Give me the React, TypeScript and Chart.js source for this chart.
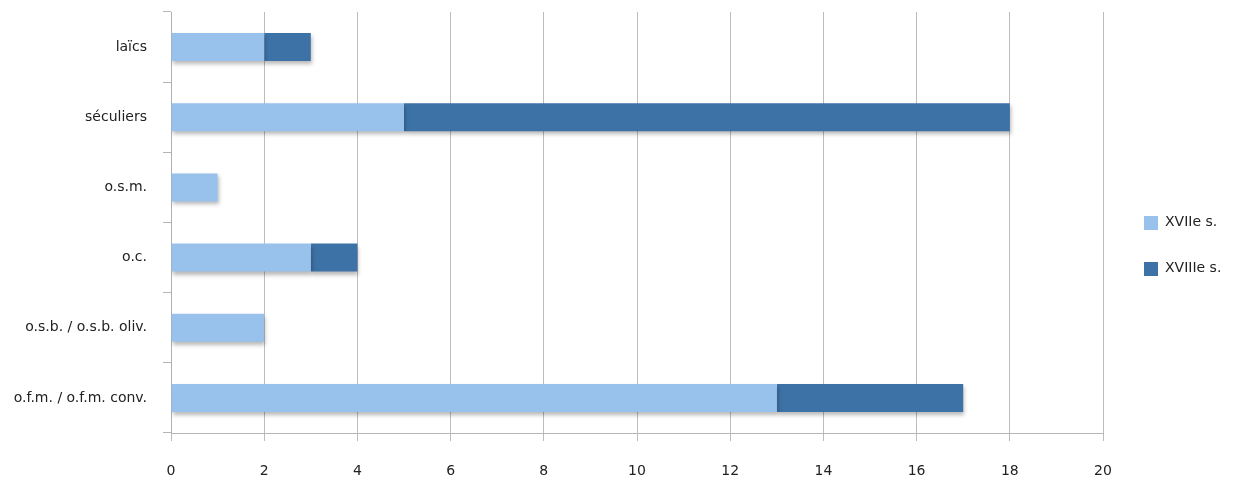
import React, { useEffect, useRef } from "react";
import { Chart, registerables } from "chart.js";

Chart.register(...registerables);

const categories = ["laïcs", "séculiers", "o.s.m.", "o.c.", "o.s.b. / o.s.b. oliv.", "o.f.m. / o.f.m. conv."];
const seriesNames = ["XVIIe s.", "XVIIIe s."];
const xviie = [2, 5, 1, 3, 2, 13];
const xviiie = [1, 13, 0, 1, 0, 4];
const xTicks = [0, 2, 4, 6, 8, 10, 12, 14, 16, 18, 20];

const LIGHT = "#98c1eb";
const DARK = "#3d72a7";
const FONT = "'DejaVu Sans', sans-serif";

const shadowPlugin = {
  id: "barShadow",
  beforeDatasetsDraw(chart: any) {
    const ctx = chart.ctx;
    ctx.save();
    ctx.shadowColor = "rgba(0,0,0,0.28)";
    ctx.shadowBlur = 4;
    ctx.shadowOffsetX = 1;
    ctx.shadowOffsetY = 3;
  },
  afterDatasetsDraw(chart: any) {
    chart.ctx.restore();
  },
};

const legendPlugin = {
  id: "sideLegend",
  afterDraw(chart: any) {
    const ctx = chart.ctx;
    const colors = [LIGHT, DARK];
    ctx.save();
    ctx.font = `14px ${FONT}`;
    ctx.textBaseline = "middle";
    ctx.textAlign = "left";
    seriesNames.forEach((name, i) => {
      const y = 216 + i * 46;
      ctx.fillStyle = colors[i];
      ctx.fillRect(1144, y, 14, 14);
      ctx.fillStyle = "#222";
      ctx.fillText(name, 1165, y + 6);
    });
    ctx.restore();
  },
};

export default function App() {
  const ref = useRef<HTMLCanvasElement>(null);
  useEffect(() => {
    if (!ref.current) return;
    const chart = new Chart(ref.current, {
      type: "bar",
      data: {
        labels: categories,
        datasets: [
          { label: seriesNames[0], data: xviie, backgroundColor: LIGHT, categoryPercentage: 1, barPercentage: 0.4 },
          { label: seriesNames[1], data: xviiie, backgroundColor: DARK, categoryPercentage: 1, barPercentage: 0.4 },
        ],
      },
      options: {
        indexAxis: "y",
        animation: false,
        responsive: false,
        maintainAspectRatio: false,
        layout: { padding: { left: 0, right: 134, top: 12, bottom: 0 } },
        plugins: { legend: { display: false }, tooltip: { enabled: false } },
        scales: {
          x: {
            stacked: true,
            min: 0,
            max: 20,
            afterBuildTicks(scale: any) {
              scale.ticks = xTicks.map((v) => ({ value: v }));
            },
            afterFit(scale: any) {
              scale.height = 57;
              scale.paddingLeft = 0;
              scale.paddingRight = 0;
            },
            grid: { color: "#bdbdbd", lineWidth: 1, tickLength: 8, drawTicks: true },
            border: { color: "#b5b5b5" },
            ticks: { color: "#222", font: { family: FONT, size: 14 }, padding: 22 },
          },
          y: {
            stacked: true,
            afterFit(scale: any) {
              scale.width = 171;
              scale.paddingTop = 0;
              scale.paddingBottom = 0;
            },
            grid: { offset: true, drawOnChartArea: false, color: "#b5b5b5", tickLength: 8 },
            border: { color: "#b0b0b0" },
            ticks: { color: "#222", font: { family: FONT, size: 14 }, padding: 16 },
          },
        },
      },
      plugins: [shadowPlugin, legendPlugin],
    } as any);
    return () => chart.destroy();
  }, []);
  return (
    <div style={{ position: "fixed", left: 0, top: 0, width: 1237, height: 490, background: "#fff" }}>
      <canvas ref={ref} width={1237} height={490} style={{ width: 1237, height: 490 }} />
    </div>
  );
}
